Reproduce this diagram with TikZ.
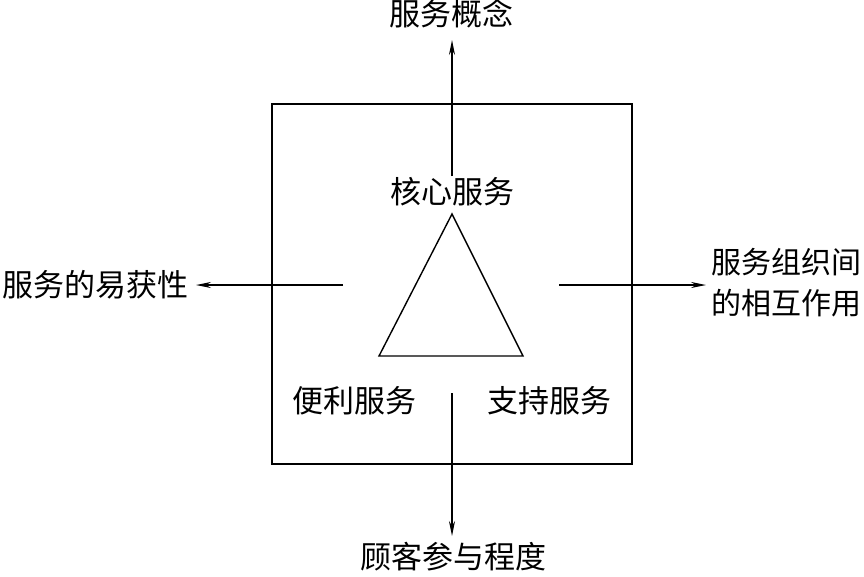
\documentclass[tikz,border=0pt]{standalone}
\usepackage{fontspec}
\setmainfont{Noto Sans CJK SC}
\usetikzlibrary{arrows.meta}
\begin{document}
\begin{tikzpicture}[x=1pt,y=-1pt,
  lbl/.style={inner sep=0pt,font=\fontsize{31}{36}\selectfont},
  arr/.style={line width=1.4pt,-{Stealth[length=15pt,width=6pt]}},
  thinline/.style={line width=1.4pt}]
\useasboundingbox (0,0) rectangle (864,576);
\node[draw,thinline,minimum width=360pt,minimum height=360pt,inner sep=0pt] (box) at (452,284) {};
\node[lbl] (top) at (451,14) {服务概念};
\node[lbl] (core) at (452,192) {核心服务};
\node[lbl,anchor=east] (left) at (189,285) {服务的易获性};
\node[lbl,anchor=west,align=left,font=\fontsize{30}{41}\selectfont] (right) at (711,283) {服务组织间\\的相互作用};
\node[lbl] (bottom) at (453,557) {顾客参与程度};
\node[lbl] (conv) at (354,401) {便利服务};
\node[lbl] (supp) at (549,401) {支持服务};
\coordinate (ta) at (452,214);
\coordinate (tl) at (379,356);
\coordinate (tr) at (523,356);
\draw[thinline] (ta) -- (tl) -- (tr) -- cycle;
\coordinate (s1) at (452,176);
\coordinate (e1) at (452,40);
\coordinate (s2) at (343,285);
\coordinate (e2) at (196,285);
\coordinate (s3) at (559,285);
\coordinate (e3) at (706,285);
\coordinate (s4) at (452,393);
\coordinate (e4) at (452,536);
\draw[arr] (s1) -- (e1);
\draw[arr] (s2) -- (e2);
\draw[arr] (s3) -- (e3);
\draw[arr] (s4) -- (e4);
\end{tikzpicture}
\end{document}
